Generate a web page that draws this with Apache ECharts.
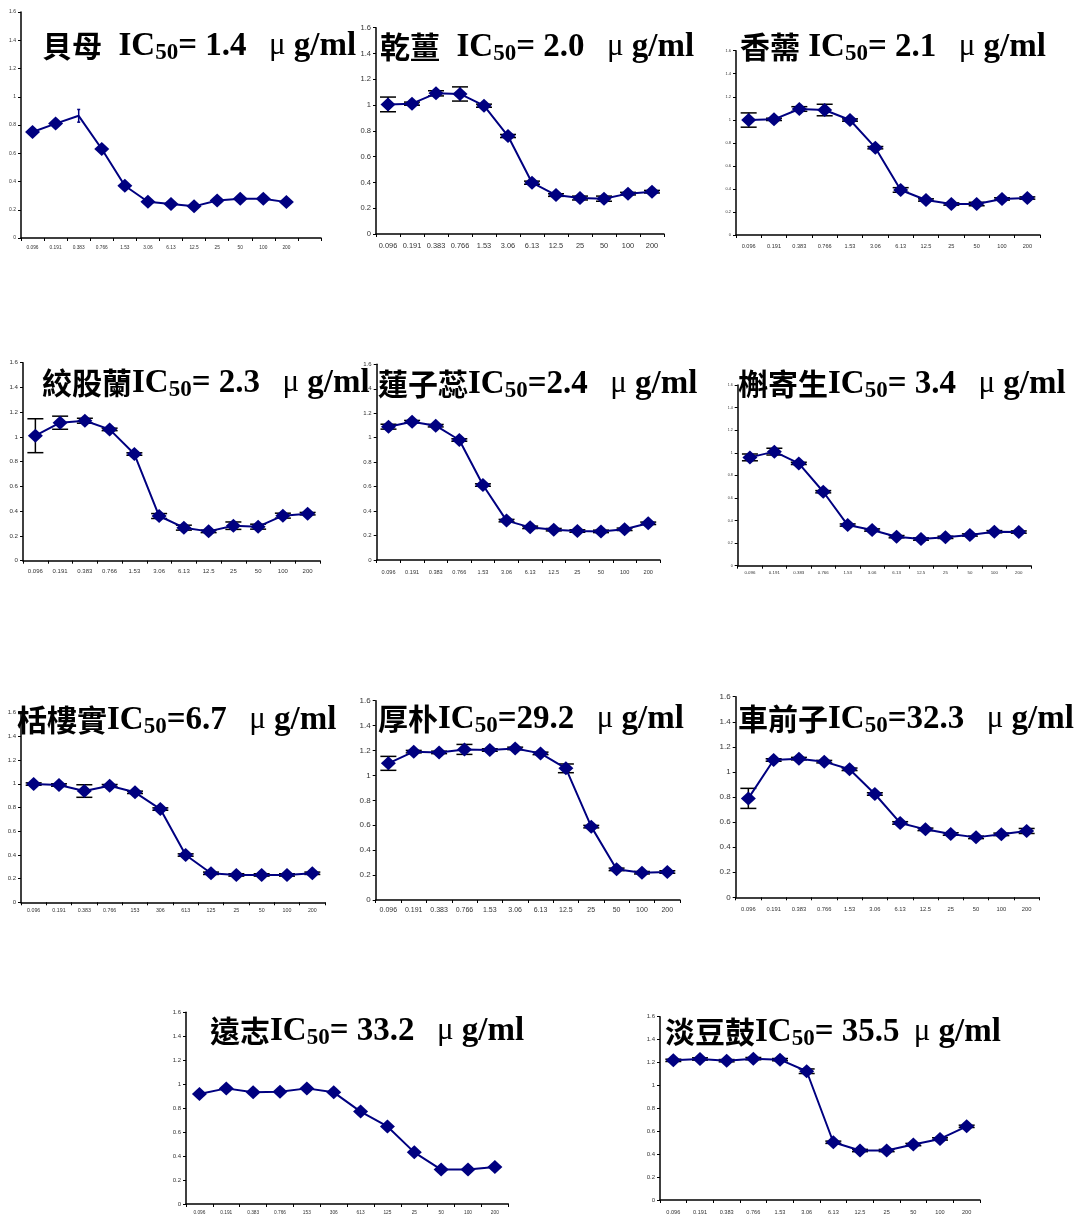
<!DOCTYPE html>
<html>
<head>
<meta charset="utf-8">
<script src="https://cdn.jsdelivr.net/npm/echarts@6/dist/echarts.min.js"></script>
<style>
  html, body { margin: 0; padding: 0; background: #fff; }
  #chart { width: 1077px; height: 1215px; }
</style>
</head>
<body>
<div id="chart"></div>
<script>
// Concentration series (μg/ml) used as the category axis
const concentrations = ['0.096', '0.191', '0.383', '0.766', '1.53', '3.06', '6.13', '12.5', '25', '50', '100', '200'];
const concentrationsPlain = ['0.096', '0.191', '0.383', '0.766', '153', '306', '613', '125', '25', '50', '100', '200'];

// Herb names and IC50 text for each panel
const herbNames = ['貝母', '乾薑', '香薷', '絞股蘭', '蓮子蕊', '槲寄生', '栝樓實', '厚朴', '車前子', '遠志', '淡豆鼓'];
const ic50Text = ['= 1.4', '= 2.0', '= 2.1', '= 2.3', '=2.4', '= 3.4', '=6.7', '=29.2', '=32.3', '= 33.2', '= 35.5'];

// Relative viability (mean) per concentration
const beimu      = [0.75, 0.81, 0.865, 0.63, 0.37, 0.257, 0.24, 0.224, 0.266, 0.278, 0.278, 0.254];
const ganjiang   = [1.005, 1.011, 1.091, 1.086, 0.995, 0.76, 0.398, 0.302, 0.279, 0.274, 0.313, 0.328];
const xiangru    = [0.998, 1.004, 1.094, 1.085, 0.998, 0.758, 0.391, 0.304, 0.269, 0.269, 0.313, 0.321];
const jiaogulan  = [1.01, 1.115, 1.131, 1.061, 0.862, 0.361, 0.267, 0.237, 0.283, 0.275, 0.364, 0.38];
const lianzirui  = [1.09, 1.131, 1.098, 0.981, 0.613, 0.322, 0.267, 0.248, 0.237, 0.234, 0.251, 0.3];
const hujisheng  = [0.959, 1.01, 0.906, 0.655, 0.36, 0.316, 0.257, 0.236, 0.251, 0.272, 0.301, 0.298];
const gualoushi  = [0.998, 0.99, 0.939, 0.984, 0.928, 0.787, 0.399, 0.245, 0.231, 0.231, 0.231, 0.245];
const houpo      = [1.097, 1.191, 1.185, 1.209, 1.204, 1.217, 1.177, 1.057, 0.589, 0.246, 0.219, 0.225];
const cheqianzi  = [0.789, 1.095, 1.106, 1.082, 1.021, 0.824, 0.593, 0.542, 0.505, 0.478, 0.502, 0.529];
const yuanzhi    = [0.918, 0.965, 0.932, 0.937, 0.965, 0.932, 0.771, 0.647, 0.431, 0.287, 0.287, 0.309];
const dandouchi  = [1.219, 1.231, 1.216, 1.234, 1.225, 1.124, 0.504, 0.432, 0.432, 0.484, 0.533, 0.643];

// Standard deviations
const beimuErr     = [0, 0, 0.045, 0, 0, 0, 0, 0, 0, 0, 0, 0];
const ganjiangErr  = [0.057, 0.012, 0.02, 0.055, 0.012, 0.012, 0.012, 0.01, 0.015, 0.02, 0.01, 0.01];
const xiangruErr   = [0.062, 0.01, 0.02, 0.05, 0.01, 0.01, 0.02, 0.01, 0.01, 0.015, 0.01, 0.01];
const jiaogulanErr = [0.137, 0.053, 0.02, 0.01, 0.01, 0.02, 0.02, 0.01, 0.03, 0.02, 0.02, 0.01];
const lianziruiErr = [0.02, 0.01, 0.01, 0.01, 0.01, 0.01, 0.01, 0.01, 0.01, 0.01, 0.01, 0.01];
const hujishengErr = [0.03, 0.03, 0.01, 0.01, 0.01, 0.01, 0.01, 0.01, 0.01, 0.01, 0.01, 0.01];
const gualoushiErr = [0.01, 0.01, 0.053, 0.01, 0.01, 0.01, 0.01, 0.01, 0.01, 0.01, 0.01, 0.01];
const houpoErr     = [0.056, 0.01, 0.01, 0.04, 0.01, 0.01, 0.01, 0.035, 0.01, 0.01, 0.01, 0.01];
const cheqianziErr = [0.08, 0.01, 0.01, 0.01, 0.01, 0.01, 0.01, 0.01, 0.01, 0.01, 0.01, 0.02];
const yuanzhiErr   = [0, 0, 0, 0, 0, 0, 0, 0, 0, 0, 0, 0];
const dandouchiErr = [0.01, 0.01, 0.01, 0.01, 0.01, 0.02, 0.01, 0.01, 0.01, 0.01, 0.01, 0.01];

const yTicks = { min: 0, max: 1.6, interval: 0.2 };

const panelValues = [beimu, ganjiang, xiangru, jiaogulan, lianzirui, hujisheng, gualoushi, houpo, cheqianzi, yuanzhi, dandouchi];
const panelErrors = [beimuErr, ganjiangErr, xiangruErr, jiaogulanErr, lianziruiErr, hujishengErr, gualoushiErr, houpoErr, cheqianziErr, yuanzhiErr, dandouchiErr];

// Panel geometry and styling: grid = [left, top, width, height]
const layout = [
  { grid: [21, 12, 300, 226],      extraSlot: true, cats: concentrations,      xFont: 4.8, yFont: 5,   xMargin: 7, title: [42, 46],   gapA: '  ', gapB: '  ', cap: 1.5, capColor: '#000080', noMarker: [2] },
  { grid: [376, 27.7, 288, 206.3], cats: concentrations,      xFont: 7.4, yFont: 7.6, xMargin: 8, title: [380, 47],  gapA: '  ', gapB: '  ', cap: 8 },
  { grid: [736, 50.7, 304, 184.3], cats: concentrations,      xFont: 5.6, yFont: 4,   xMargin: 8, title: [740, 47],  gapA: ' ',  gapB: '  ', cap: 8 },
  { grid: [23, 362.7, 297, 198],   cats: concentrations,      xFont: 6,   yFont: 6.2, xMargin: 8, title: [42, 383],  gapA: '',   gapB: '  ', cap: 8 },
  { grid: [376.7, 364.3, 283.3, 195.7], cats: concentrations, xFont: 5.6, yFont: 6,   xMargin: 9, title: [378, 384], gapA: '',   gapB: '  ', cap: 8 },
  { grid: [737.7, 385, 293.3, 180.7], cats: concentrations,   xFont: 4.4, yFont: 3.6, xMargin: 5.5, title: [738, 384], gapA: '', gapB: '  ', cap: 8 },
  { grid: [21, 712.7, 304, 189.6], cats: concentrationsPlain, xFont: 5.3, yFont: 6,   xMargin: 6, title: [17, 720],  gapA: '',   gapB: '  ', cap: 8 },
  { grid: [375.7, 700.7, 304.3, 199.3], cats: concentrations, xFont: 7,   yFont: 8,   xMargin: 7, title: [378, 719], gapA: '',   gapB: '  ', cap: 8 },
  { grid: [735.7, 696.7, 303.6, 200.6], cats: concentrations, xFont: 5.8, yFont: 8,   xMargin: 9, title: [738, 719], gapA: '',   gapB: '  ', cap: 8 },
  { grid: [186, 1012.3, 322.3, 192.7], cats: concentrationsPlain, xFont: 4.8, yFont: 6, xMargin: 6, title: [210, 1031], gapA: '', gapB: '  ', cap: 8 },
  { grid: [660, 1016.7, 320, 185], cats: concentrations,      xFont: 5.6, yFont: 6,   xMargin: 9, title: [665, 1032], gapA: '',  gapB: ' ',  cap: 8 }
];

const NAVY = '#000080';
const titleRich = {
  h: { fontFamily: 'Noto Sans CJK TC', fontSize: 30, fontWeight: 'bold', color: '#000', lineHeight: 36 },
  l: { fontFamily: 'Liberation Serif', fontSize: 33, fontWeight: 'bold', color: '#000', lineHeight: 36 },
  s: { fontFamily: 'Liberation Serif', fontSize: 23, fontWeight: 'bold', color: '#000', lineHeight: 20, padding: [14, 0, 0, 0] },
  u: { fontFamily: 'Liberation Serif', fontSize: 31, fontWeight: 'normal', color: '#000', lineHeight: 36, padding: [0, 0, 0, 6] }
};

const grids = [], xAxes = [], yAxes = [], series = [], titles = [];

layout.forEach((p, i) => {
  const [left, top, width, height] = p.grid;
  grids.push({ left, top, width, height, containLabel: false });

  const cats = p.extraSlot ? p.cats.concat(['']) : p.cats;
  xAxes.push({
    gridIndex: i, type: 'category', data: cats, boundaryGap: true,
    axisLine: { show: true, lineStyle: { color: '#000', width: 1.5 } },
    axisTick: { show: true, length: 3, lineStyle: { color: '#000', width: 1 } },
    axisLabel: { interval: 0, fontSize: p.xFont, margin: p.xMargin, color: '#333', fontFamily: 'Liberation Sans' },
    splitLine: { show: false }
  });
  yAxes.push({
    gridIndex: i, type: 'value', min: yTicks.min, max: yTicks.max, interval: yTicks.interval,
    axisLine: { show: true, lineStyle: { color: '#000', width: 1.5 } },
    axisTick: { show: true, length: 3, lineStyle: { color: '#000', width: 1 } },
    axisLabel: { fontSize: p.yFont, margin: 5, color: '#333', fontFamily: 'Liberation Sans' },
    splitLine: { show: false }
  });

  const values = panelValues[i];
  const errs = panelErrors[i];
  const hidden = p.noMarker || [];

  // error bars (drawn beneath the markers)
  series.push({
    type: 'custom', xAxisIndex: i, yAxisIndex: i, z: 1, silent: true,
    encode: { x: 0, y: 1 },
    data: values.map((v, j) => [j, v, errs[j]]),
    renderItem: (params, api) => {
      const idx = api.value(0), v = api.value(1), e = api.value(2);
      if (!e) return null;
      const hi = api.coord([idx, v + e]);
      const lo = api.coord([idx, v - e]);
      const st = { stroke: p.capColor || '#000', lineWidth: 1.5 };
      const c = p.cap;
      return {
        type: 'group',
        children: [
          { type: 'line', shape: { x1: hi[0], y1: hi[1], x2: lo[0], y2: lo[1] }, style: st },
          { type: 'line', shape: { x1: hi[0] - c, y1: hi[1], x2: hi[0] + c, y2: hi[1] }, style: st },
          { type: 'line', shape: { x1: lo[0] - c, y1: lo[1], x2: lo[0] + c, y2: lo[1] }, style: st }
        ]
      };
    }
  });

  series.push({
    type: 'line', xAxisIndex: i, yAxisIndex: i, z: 3,
    data: values.map((v, j) => hidden.includes(j) ? { value: v, symbol: 'none' } : v),
    symbol: 'diamond', symbolSize: [15, 14], showAllSymbol: true,
    itemStyle: { color: NAVY },
    lineStyle: { color: NAVY, width: 2 }
  });

  titles.push({
    left: p.title[0], top: p.title[1] - 18, padding: 0,
    text: '{h|' + herbNames[i] + '}{l|' + p.gapA + 'IC}{s|50}{l|' + ic50Text[i] + p.gapB + '}{u|μ}{l| g/ml}',
    textStyle: { rich: titleRich }
  });
});

const chart = echarts.init(document.getElementById('chart'), null, { renderer: 'canvas' });
chart.setOption({
  animation: false,
  backgroundColor: '#fff',
  title: titles,
  grid: grids,
  xAxis: xAxes,
  yAxis: yAxes,
  series: series
});
</script>
</body>
</html>
